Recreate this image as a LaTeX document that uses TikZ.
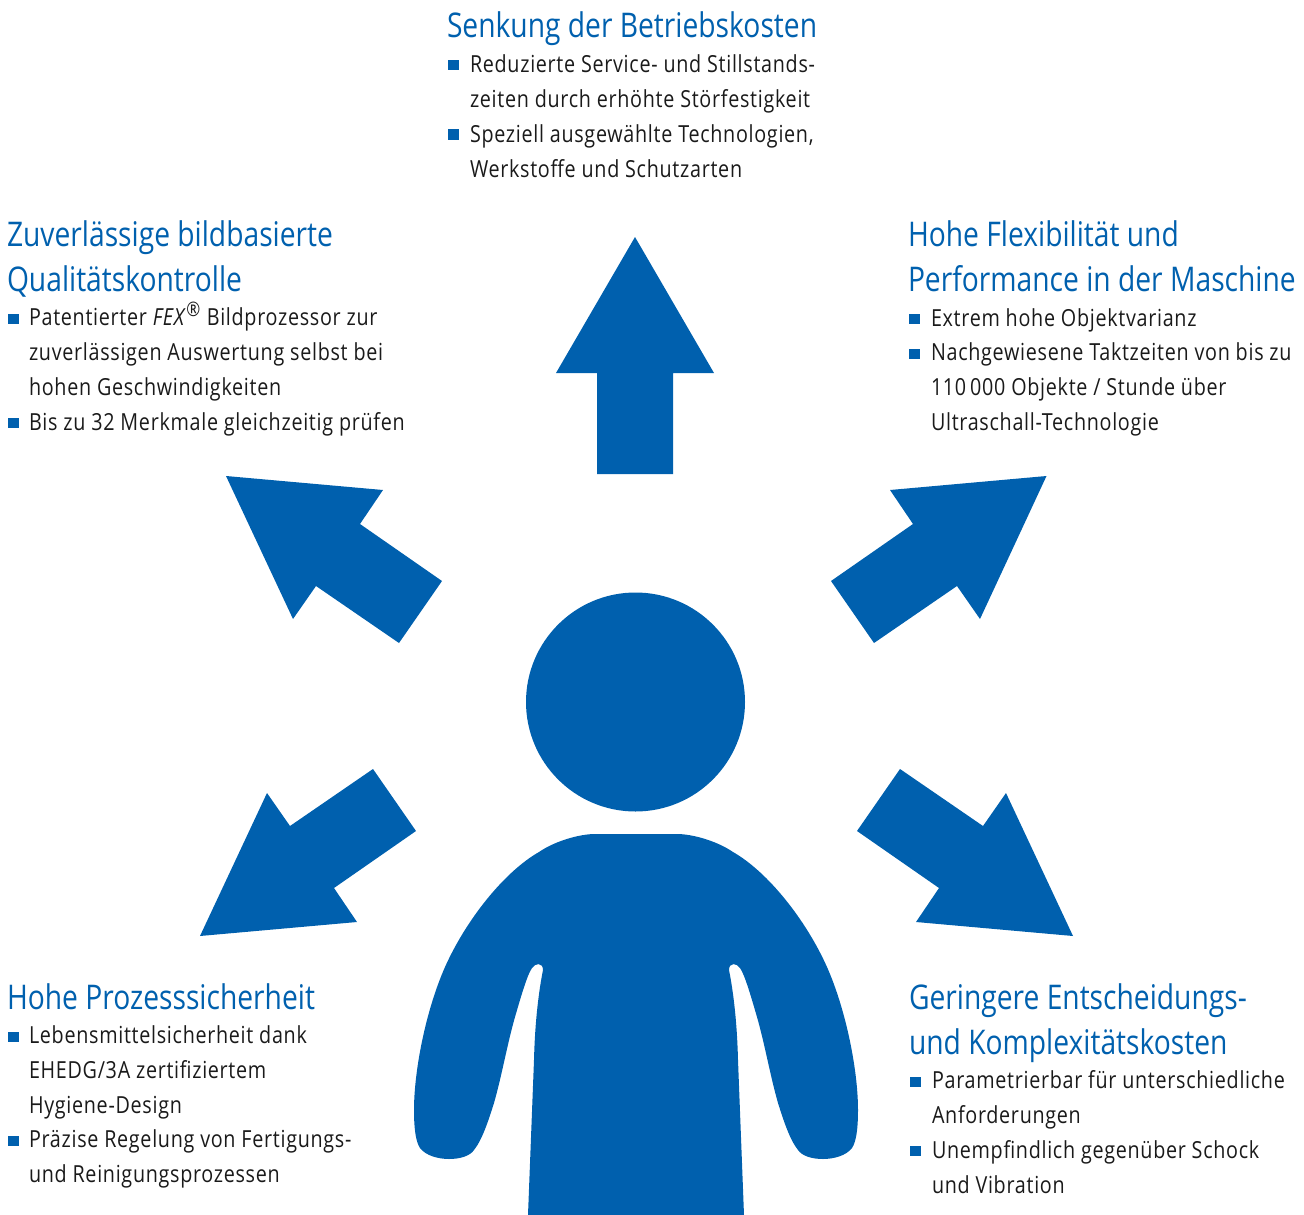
\documentclass[tikz,border=0pt]{standalone}
\usepackage{fontspec}
\setmainfont[FakeStretch=0.84,LetterSpace=3]{Open Sans}
\newfontfamily\titlefont[FakeStretch=0.83]{Open Sans}
\definecolor{feblue}{HTML}{0060AE}
\definecolor{febody}{HTML}{1A1A1A}
\tikzset{
  every node/.style={inner sep=0pt,outer sep=0pt},
  shape fill/.style={fill=feblue,draw=none},
  headline/.style={anchor=base west,align=left,text=feblue,
    font=\titlefont\fontsize{34}{45}\selectfont},
  bodyline/.style={anchor=base west,align=left,text=febody,
    font=\fontsize{23.5}{34.7}\selectfont},
  bulletmark/.style={anchor=south west,fill=feblue,minimum width=11pt,minimum height=10.5pt}
}
\begin{document}
\begin{tikzpicture}[x=1pt,y=-1pt]
\useasboundingbox (0,0) rectangle (1304,1215);
% arrows
\fill[shape fill] (635,237) -- (714,373) -- (673,373) -- (673,474) -- (597,474) -- (597,373) -- (556,373) -- cycle;
\fill[shape fill] (226,476) -- (383,490) -- (360,524) -- (442,581) -- (399,643) -- (316,586) -- (293,619) -- cycle;
\fill[shape fill] (1046.5,476) -- (890,490) -- (913,524) -- (831,581) -- (874,643) -- (957,586) -- (980,619) -- cycle;
\fill[shape fill] (200,936) -- (357,922) -- (334,888) -- (416,831) -- (373,769) -- (290,826) -- (267,793) -- cycle;
\fill[shape fill] (1073,936) -- (916,922) -- (939,888) -- (857,831) -- (900,769) -- (983,826) -- (1006,793) -- cycle;
% person
\fill[shape fill] (635.5,702) circle[radius=109.5];
\fill[shape fill] (593,834) -- (679,834)
  .. controls (698,835) and (720,843) .. (733,852)
  .. controls (768,872) and (806,920) .. (827,967)
  .. controls (846,1010) and (858,1070) .. (858,1110)
  .. controls (858,1130) and (856,1142) .. (852,1148)
  .. controls (846,1156) and (833,1159) .. (823,1159)
  .. controls (812,1159) and (802,1156) .. (798,1150)
  .. controls (790,1140) and (784,1122) .. (778,1103)
  .. controls (770,1075) and (765,1045) .. (757,1017)
  .. controls (752,1000) and (745,975) .. (740,968)
  .. controls (737,963) and (729,962) .. (729,970)
  .. controls (733,990) and (737,1020) .. (738,1060)
  -- (744,1215) -- (528,1215) -- (534,1060)
  .. controls (535,1020) and (539,990) .. (543,970)
  .. controls (543,962) and (535,963) .. (532,968)
  .. controls (527,975) and (520,1000) .. (515,1017)
  .. controls (507,1045) and (502,1075) .. (494,1103)
  .. controls (488,1122) and (482,1140) .. (474,1150)
  .. controls (470,1156) and (460,1159) .. (449,1159)
  .. controls (439,1159) and (426,1156) .. (420,1148)
  .. controls (416,1142) and (414,1130) .. (414,1110)
  .. controls (414,1070) and (426,1010) .. (445,967)
  .. controls (466,920) and (504,872) .. (539,852)
  .. controls (552,843) and (574,835) .. (593,834) -- cycle;
% top block
\node[headline] (topT) at (447,38) {Senkung der Betriebskosten};
\node[bulletmark] (topB1) at (448,70.5) {};
\node[bodyline] (topA) at (470,107) {Reduzierte Service- und Stillstands-\\zeiten durch erhöhte Störfestigkeit};
\node[bulletmark] (topB2) at (448,139.5) {};
\node[bodyline] (topC) at (470,177) {Speziell ausgewählte Technologien,\\Werkstoffe und Schutzarten};
% upper left
\node[headline] (ulT) at (7,291) {Zuverlässige bildbasierte\\Qualitätskontrolle};
\node[bulletmark] (ulB1) at (8,324) {};
\node[bodyline] (ulA) at (29,395) {Patentierter \textit{FEX}\textsuperscript{\fontsize{20}{20}\selectfont ®} Bildprozessor zur\\zuverlässigen Auswertung selbst bei\\hohen Geschwindigkeiten};
\node[bulletmark] (ulB2) at (8,428) {};
\node[bodyline] (ulC) at (29,430) {Bis zu 32 Merkmale gleichzeitig prüfen};
% upper right
\node[headline] (urT) at (908,291) {Hohe Flexibilität und\\Performance in der Maschine};
\node[bulletmark] (urB1) at (909,324) {};
\node[bodyline] (urA) at (931,326) {Extrem hohe Objektvarianz};
\node[bulletmark] (urB2) at (909,359) {};
\node[bodyline] (urC) at (931,430) {Nachgewiesene Taktzeiten von bis zu\\110\,000 Objekte / Stunde über\\Ultraschall-Technologie};
% lower left
\node[headline] (llT) at (7,1009) {Hohe Prozesssicherheit};
\node[bulletmark] (llB1) at (8,1042) {};
\node[bodyline] (llA) at (29,1113) {Lebensmittelsicherheit dank\\EHEDG/3A zertifiziertem\\Hygiene-Design};
\node[bulletmark] (llB2) at (8,1146) {};
\node[bodyline] (llC) at (29,1182) {Präzise Regelung von Fertigungs-\\und Reinigungsprozessen};
% lower right
\node[headline] (lrT) at (909,1054) {Geringere Entscheidungs-\\und Komplexitätskosten};
\node[bulletmark] (lrB1) at (910,1087) {};
\node[bodyline] (lrA) at (932,1123) {Parametrierbar für unterschiedliche\\Anforderungen};
\node[bulletmark] (lrB2) at (910,1156) {};
\node[bodyline] (lrC) at (932,1193) {Unempfindlich gegenüber Schock\\und Vibration};
\end{tikzpicture}
\end{document}
